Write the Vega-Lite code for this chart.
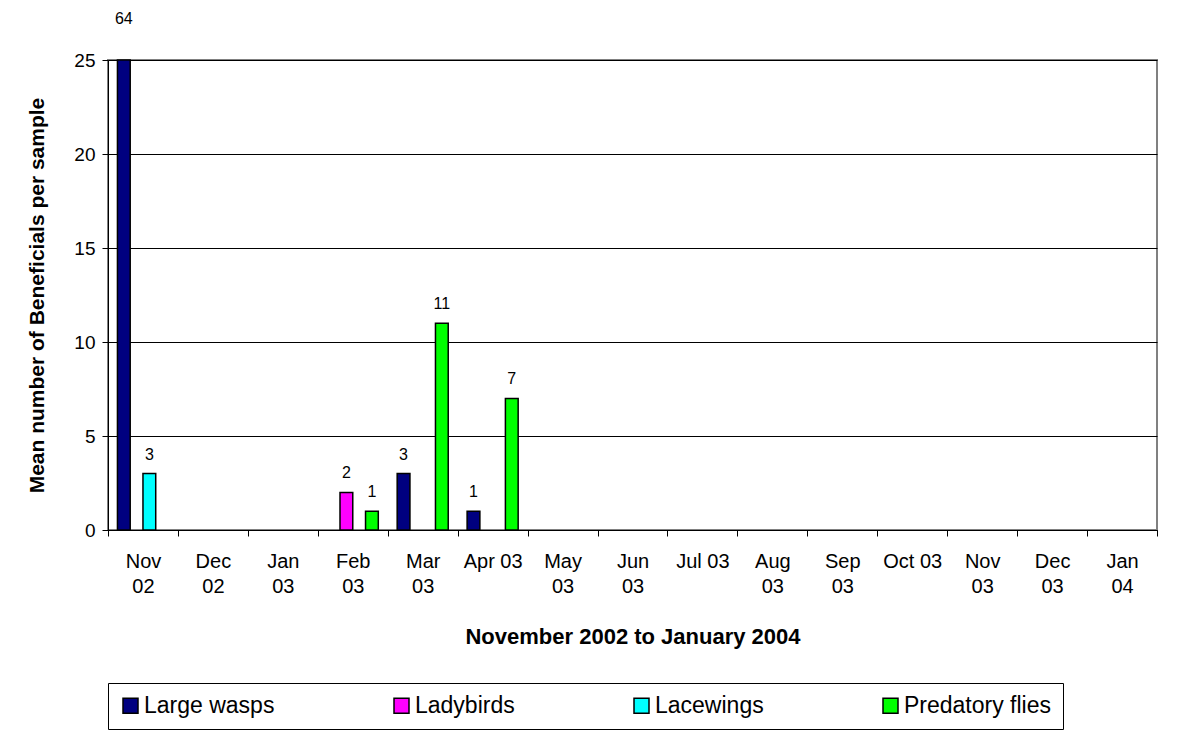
{
  "$schema": "https://vega.github.io/schema/vega-lite/v6.json",
  "width": 1049,
  "height": 470,
  "autosize": {"type": "none"},
  "padding": {"left": 108, "top": 60, "right": 20, "bottom": 212},
  "background": "white",
  "config": {
    "font": "Liberation Sans",
    "view": {"stroke": "#808080", "strokeWidth": 2},
    "axis": {"labelFont": "Liberation Sans", "titleFont": "Liberation Sans", "labelColor": "black", "titleColor": "black"}
  },
  "data": {
    "values": [
      {"month": "Nov 02", "group": "Large wasps", "value": 64},
      {"month": "Nov 02", "group": "Lacewings", "value": 3},
      {"month": "Feb 03", "group": "Ladybirds", "value": 2},
      {"month": "Feb 03", "group": "Predatory flies", "value": 1},
      {"month": "Mar 03", "group": "Large wasps", "value": 3},
      {"month": "Mar 03", "group": "Predatory flies", "value": 11},
      {"month": "Apr 03", "group": "Large wasps", "value": 1},
      {"month": "Apr 03", "group": "Predatory flies", "value": 7}
    ]
  },
  "encoding": {
    "x": {
      "field": "month",
      "type": "nominal",
      "scale": {
        "domain": ["Nov 02", "Dec 02", "Jan 03", "Feb 03", "Mar 03", "Apr 03", "May 03", "Jun 03", "Jul 03", "Aug 03", "Sep 03", "Oct 03", "Nov 03", "Dec 03", "Jan 04"],
        "paddingInner": 0,
        "paddingOuter": 0
      },
      "axis": {
        "title": "November 2002 to January 2004",
        "titleFontSize": 22,
        "titleFontWeight": "bold",
        "titlePadding": 30,
        "labelAngle": 0,
        "labelFontSize": 20,
        "labelLineHeight": 25,
        "labelPadding": 15,
        "labelOverlap": false,
        "labelExpr": "!isValid(datum.value) ? '' : (indexof(['Apr 03','Jul 03','Oct 03'], datum.value) >= 0 ? datum.value : split(datum.value, ' '))",
        "tickBand": "extent",
        "tickSize": 6,
        "tickColor": "black",
        "domainColor": "black",
        "grid": false
      }
    },
    "xOffset": {
      "field": "group",
      "type": "nominal",
      "scale": {
        "domain": ["Large wasps", "Ladybirds", "Lacewings", "Predatory flies"],
        "paddingInner": 0,
        "paddingOuter": 0.74
      }
    },
    "y": {
      "field": "value",
      "type": "quantitative",
      "scale": {"domain": [0, 25], "clamp": true, "nice": false},
      "axis": {
        "title": "Mean number of Beneficials per sample",
        "titleFontSize": 21,
        "titleFontWeight": "bold",
        "titlePadding": 26,
        "values": [0, 5, 10, 15, 20, 25],
        "labelFontSize": 19,
        "labelPadding": 7,
        "tickSize": 6,
        "tickColor": "black",
        "domainColor": "black",
        "gridColor": "black",
        "gridWidth": 1
      }
    }
  },
  "layer": [
    {
      "mark": {"type": "bar", "stroke": "black", "strokeWidth": 1.5},
      "encoding": {
        "color": {
          "field": "group",
          "type": "nominal",
          "scale": {
            "domain": ["Large wasps", "Ladybirds", "Lacewings", "Predatory flies"],
            "range": ["#000080", "#FF00FF", "#00FFFF", "#00FF00"]
          },
          "legend": {
            "title": null,
            "orient": "none",
            "direction": "horizontal",
            "legendX": 0,
            "legendY": 623,
            "columns": 4,
            "columnPadding": 115,
            "padding": 11,
            "strokeColor": "black",
            "symbolType": "square",
            "symbolSize": 225,
            "symbolStrokeColor": "black",
            "symbolStrokeWidth": 1.5,
            "symbolOpacity": 1,
            "labelFont": "Liberation Sans",
            "labelFontSize": 23,
            "labelColor": "black",
            "labelOffset": 2,
            "labelLimit": 300
          }
        }
      }
    },
    {
      "transform": [{"filter": "datum.value <= 25"}],
      "mark": {"type": "text", "baseline": "alphabetic", "dy": -14, "fontSize": 16, "color": "black"},
      "encoding": {"text": {"field": "value", "type": "quantitative"}}
    },
    {
      "transform": [{"filter": "datum.value > 25"}],
      "mark": {"type": "text", "baseline": "alphabetic", "dy": -36, "fontSize": 16, "color": "black"},
      "encoding": {"text": {"field": "value", "type": "quantitative"}}
    }
  ]
}
